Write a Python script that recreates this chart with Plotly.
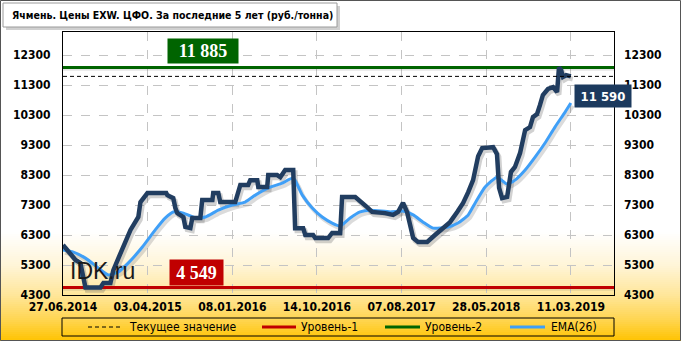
import plotly.graph_objects as go

# ---------------- data ----------------
tick_idx = [0, 40, 80, 120, 160, 200, 240]
tick_labels = ["27.06.2014", "03.04.2015", "08.01.2016", "14.10.2016",
               "07.08.2017", "28.05.2018", "11.03.2019"]
y_ticks = [4300, 5300, 6300, 7300, 8300, 9300, 10300, 11300, 12300]

price_idx = [0, 1.1, 5.9, 8.2, 9.6, 10.6, 17.7, 19.1, 22.4, 23.8, 26.2, 28.1, 31.9, 35.6,
             36.6, 39.9, 48.8, 49.3, 52.1, 53.1, 54.0, 56.9, 57.8, 60.2, 61.1, 64.9, 65.8,
             70.6, 71.0, 73.4, 74.3, 81.4, 83.8, 87.5, 88.5, 91.8, 92.3, 96.5, 97.0, 101.2,
             102.7, 105.0, 108.8, 109.7, 113.5, 114.5, 118.2, 119.2, 125.3, 127.2, 131.0,
             131.9, 138.1, 143.7, 146.1, 152.2, 156.0, 158.4, 160.7, 162.6, 165.5, 167.8,
             172.1, 175.8, 179.2, 182.9, 186.3, 189.1, 191.5, 193.8, 196.2, 198.1, 203.3,
             205.1, 206.1, 207.5, 209.9, 211.7, 213.6, 216.0, 218.4, 220.7, 222.1, 224.0,
             225.4, 226.8, 229.2, 231.6, 233.5, 234.4, 235.4, 236.3, 237.8, 240]
price_val = [5970, 5870, 5470, 5370, 4870, 4549, 4549, 4700, 4700, 5130, 5530, 5870, 6470, 6900,
             7400, 7700, 7700, 7630, 7530, 7200, 7030, 6900, 6570, 6530, 6870, 6870, 7470,
             7470, 7700, 7700, 7400, 7400, 7970, 7970, 8130, 8130, 7900, 7900, 8300, 8300,
             8230, 8470, 8470, 6530, 6530, 6300, 6300, 6200, 6200, 6370, 6370,
             7570, 7570, 7230, 7070, 7030, 6970, 7070, 7370, 7070, 6200, 6070,
             6070, 6300, 6530, 6730, 7070, 7370, 7730, 8130, 8930, 9200, 9230,
             9000, 7870, 7530, 7570, 8400, 8570, 9030, 9800, 9900, 10230, 10330,
             10630, 10970, 11170, 11230, 11070, 11885, 11800, 11570, 11630, 11590]

ema_idx = [0, 4.9, 10.6, 16.7, 21.4, 26.2, 30.9, 37.5, 43.6, 48.4, 52.1, 56.9, 62.5, 67.3,
           73.4, 80.0, 86.1, 90.9, 97.0, 103.6, 108.8, 113.1, 117.8, 122.5, 127.2, 131.0,
           135.7, 140.4, 145.2, 154.6, 160.7, 165.5, 170.2, 174.9, 182.0, 186.7, 191.5,
           194.8, 199.5, 205.1, 209.9, 213.6, 218.4, 223.1, 227.8, 232.5, 237.3, 240]
ema_val = [5800, 5730, 5530, 5200, 4970, 5070, 5370, 5900, 6470, 6870, 7070, 7030, 6870, 6900,
           7130, 7300, 7400, 7630, 7870, 8030, 8200, 7630, 7200, 6900, 6700, 6600,
           6870, 7070, 7130, 7070, 7100, 6970, 6730, 6530, 6570, 6700, 6970,
           7370, 7900, 8230, 8000, 8130, 8470, 8900, 9370, 9900, 10400, 10700]

level1 = 4549
level2 = 11885
current_value = price_val[-1]

title_text = "Ячмень. Цены EXW. ЦФО. За последние 5 лет (руб./тонна)"
legend_names = ["Текущее значение", "Уровень-1", "Уровень-2", "EMA(26)"]

# ---------------- styling / layout helpers ----------------
W, H = 681, 341
ML, MR, MT, MB = 63, 67, 32, 46
PW, PH = W - ML - MR, H - MT - MB
X_RANGE = [0, 260.4]
Y_RANGE = [4300, 13070]

def px2x(px):
    return (px - ML) / PW

def py2y(py):
    return (H - MB - py) / PH

FONT = "DejaVu Sans Condensed, Tahoma, DejaVu Sans, sans-serif"
PRICE_C = "#213d60"
EMA_C = "#3f9ff7"
RED = "#c00000"
GREEN = "#006400"
FINE_DASH = "4px,3px"

fmt = lambda v: f"{v:,}".replace(",", " ")

fig = go.Figure()

# shadows
fig.add_trace(go.Scatter(x=[i + 0.9 for i in price_idx], y=[v - 90 for v in price_val],
                         mode="lines", line=dict(color="rgba(90,90,90,0.28)", width=5),
                         showlegend=False, hoverinfo="skip"))
fig.add_trace(go.Scatter(x=[i + 0.9 for i in ema_idx], y=[v - 90 for v in ema_val],
                         mode="lines", line=dict(color="rgba(90,90,90,0.22)", width=4, shape="spline", smoothing=0.5),
                         showlegend=False, hoverinfo="skip"))
for lv in (level1, level2):
    fig.add_trace(go.Scatter(x=X_RANGE, y=[lv - 60, lv - 60], mode="lines",
                             line=dict(color="rgba(90,90,90,0.15)", width=3),
                             showlegend=False, hoverinfo="skip"))

# level lines
fig.add_trace(go.Scatter(x=X_RANGE, y=[level1, level1], mode="lines", name=legend_names[1],
                         line=dict(color=RED, width=3), showlegend=False))
fig.add_trace(go.Scatter(x=X_RANGE, y=[level2, level2], mode="lines", name=legend_names[2],
                         line=dict(color=GREEN, width=3), showlegend=False))
fig.add_trace(go.Scatter(x=X_RANGE, y=[current_value, current_value], mode="lines",
                         name=legend_names[0], yaxis="y2", showlegend=False,
                         line=dict(color="black", width=1, dash=FINE_DASH)))

# EMA and price
fig.add_trace(go.Scatter(x=ema_idx, y=ema_val, mode="lines", name=legend_names[3],
                         line=dict(color=EMA_C, width=3, shape="spline", smoothing=0.5),
                         showlegend=False))
fig.add_trace(go.Scatter(x=price_idx, y=price_val, mode="lines", showlegend=False,
                         line=dict(color=PRICE_C, width=4.5)))

shapes = []
# background gradient
stops = [(0, (255, 255, 255)), (232, (255, 255, 255)), (265, (255, 245, 216)),
         (295, (255, 230, 154)), (320, (255, 213, 80)), (341, (255, 195, 0))]

def col_at(py):
    for (a, ca), (b, cb) in zip(stops[:-1], stops[1:]):
        if a <= py <= b:
            t = (py - a) / (b - a) if b > a else 0
            return "rgb(%d,%d,%d)" % tuple(round(ca[k] + (cb[k] - ca[k]) * t) for k in range(3))
    return "rgb(255,195,0)"

py = 228
while py < H:
    shapes.append(dict(type="rect", xref="paper", yref="paper", layer="below",
                       x0=px2x(0), x1=px2x(W), y0=py2y(py + 2.2), y1=py2y(py),
                       line=dict(width=0), fillcolor=col_at(py + 1)))
    py += 2

# title box with shadow
shapes.append(dict(type="rect", xref="paper", yref="paper", layer="above",
                   x0=px2x(6), x1=px2x(340), y0=py2y(30), y1=py2y(6),
                   line=dict(width=0), fillcolor="rgba(120,120,120,0.35)"))
shapes.append(dict(type="rect", xref="paper", yref="paper", layer="above",
                   x0=px2x(3), x1=px2x(337), y0=py2y(27), y1=py2y(3),
                   line=dict(width=1, color="#9a9a9a"), fillcolor="white"))
# legend frame
shapes.append(dict(type="rect", xref="paper", yref="paper", layer="above",
                   x0=px2x(62), x1=px2x(614), y0=py2y(336), y1=py2y(318),
                   line=dict(width=1, color="black")))
# outer frame
shapes.append(dict(type="rect", xref="paper", yref="paper", layer="above",
                   x0=px2x(0.5), x1=px2x(W - 0.5), y0=py2y(H - 0.5), y1=py2y(0.5),
                   line=dict(width=1, color="#555555")))

# manual legend (symbol x-span, text x, style)
legend_layout = [
    ((88, 122), 127, dict(color="black", width=1, dash=FINE_DASH)),
    ((262, 296), 299, dict(color=RED, width=3)),
    ((385, 420), 423, dict(color=GREEN, width=3)),
    ((510, 545), 549, dict(color=EMA_C, width=3)),
]
LEG_Y = 327
annotations = []
for name, ((a, b), tx, ln) in zip(legend_names, legend_layout):
    shapes.append(dict(type="line", xref="paper", yref="paper", layer="above",
                       x0=px2x(a), x1=px2x(b), y0=py2y(LEG_Y), y1=py2y(LEG_Y), line=ln))
    annotations.append(dict(xref="paper", yref="paper", x=px2x(tx), y=py2y(LEG_Y),
                            xanchor="left", yanchor="middle", text=name, showarrow=False,
                            font=dict(family=FONT, size=12, color="black")))

annotations += [
    dict(xref="paper", yref="paper", x=px2x(10), y=py2y(15), xanchor="left", yanchor="middle",
         text="<b>" + title_text + "</b>", showarrow=False,
         font=dict(family=FONT, size=10.5, color="black")),
    dict(x=66.3, y=level2, yshift=17, xref="x", yref="y", text="<b>" + fmt(level2) + "</b>",
         showarrow=False, bgcolor=GREEN, width=68, height=22,
         font=dict(family="Liberation Serif, Times New Roman, serif", size=18, color="white")),
    dict(x=63.2, y=level1, yshift=15, xref="x", yref="y", text="<b>" + fmt(level1) + "</b>",
         showarrow=False, bgcolor=RED, width=51, height=23,
         font=dict(family="Liberation Serif, Times New Roman, serif", size=18, color="white")),
    dict(x=price_idx[-1], y=current_value, xshift=32, yshift=-20, xref="x", yref="y",
         text="<b>" + fmt(current_value) + "</b>", showarrow=False, bgcolor="#1c3a5e",
         width=54, height=20, font=dict(family=FONT, size=13, color="white")),
    dict(xref="paper", yref="paper", x=px2x(102), y=py2y(271), xanchor="center", yanchor="middle",
         text="IDK.ru", showarrow=False,
         font=dict(family="Liberation Sans, Arial, sans-serif", size=23, color="#1a1a1a")),
]

axis_font = dict(family=FONT, size=12, color="black", weight="bold")
y_text = [str(v) for v in y_ticks]

fig.update_layout(
    width=W, height=H,
    margin=dict(l=ML, r=MR, t=MT, b=MB, pad=0),
    paper_bgcolor="white", plot_bgcolor="rgba(0,0,0,0)",
    shapes=shapes, annotations=annotations,
    showlegend=False,
    xaxis=dict(range=X_RANGE, tickmode="array", tickvals=tick_idx, ticktext=tick_labels,
               showgrid=True, gridcolor="#c4c4c4", griddash="dash", gridwidth=1,
               showline=True, linecolor="black", linewidth=1, mirror=True, automargin=False,
               ticks="", tickfont=axis_font, zeroline=False, ticklabelstandoff=1),
    yaxis=dict(range=Y_RANGE, tickmode="array", tickvals=y_ticks, ticktext=y_text,
               showgrid=True, gridcolor="#c4c4c4", griddash="dash", gridwidth=1,
               showline=True, linecolor="black", linewidth=1, mirror=True, automargin=False,
               ticks="", tickfont=axis_font, zeroline=False, ticklabelstandoff=9),
    yaxis2=dict(range=Y_RANGE, tickmode="array", tickvals=y_ticks, ticktext=y_text,
                overlaying="y", side="right", automargin=False,
                showgrid=False, showline=False, ticks="", tickfont=axis_font, zeroline=False,
                ticklabelstandoff=9),
)

fig.write_html("out.html")
